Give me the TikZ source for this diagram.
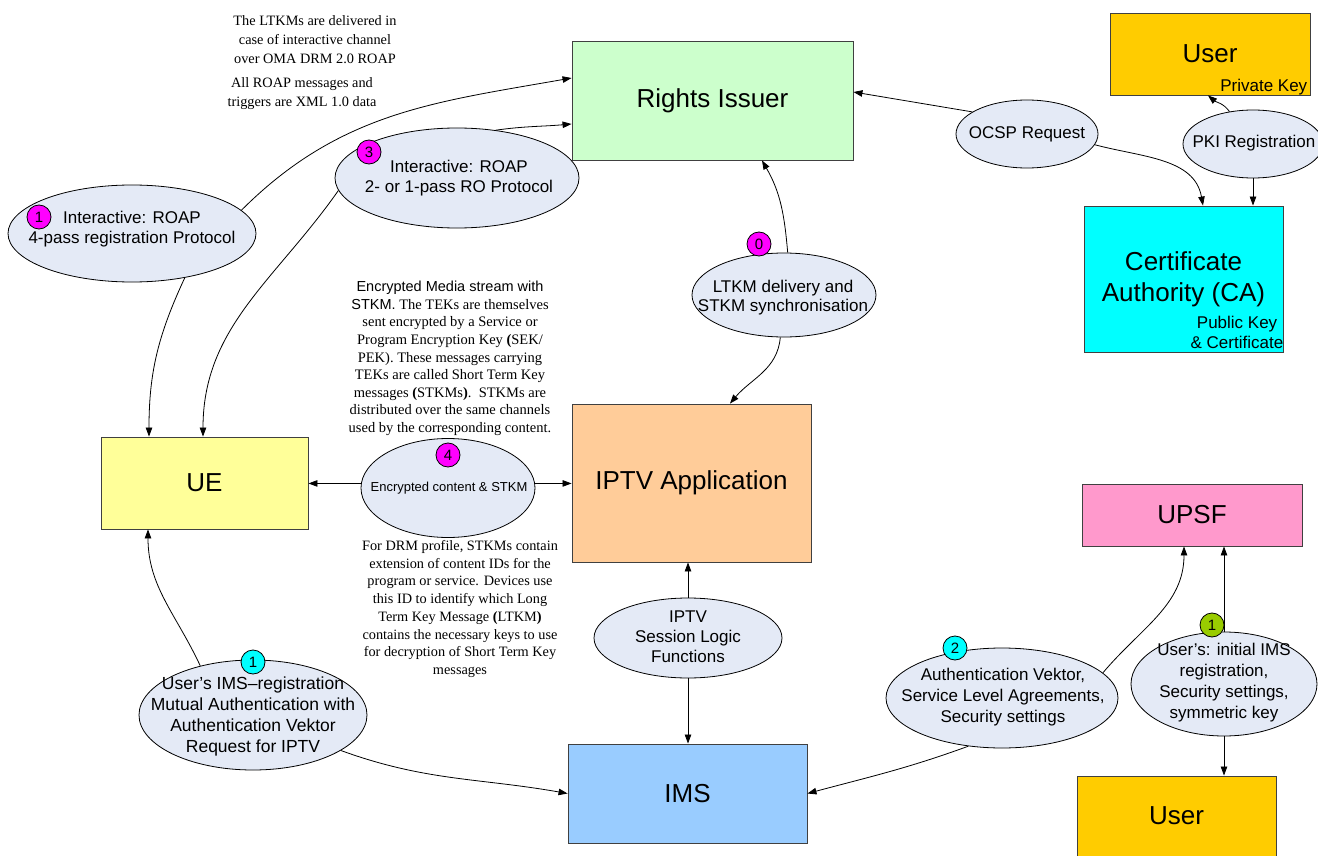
\documentclass[tikz,border=0pt]{standalone}
\usepackage{fontspec}
\setmainfont{Liberation Serif}
\setsansfont{Liberation Sans}
\usetikzlibrary{shapes.geometric,arrows.meta}

\definecolor{riFill}{HTML}{CCFFCC}
\definecolor{userFill}{HTML}{FFCC00}
\definecolor{caFill}{HTML}{00FFFF}
\definecolor{ueFill}{HTML}{FFFF99}
\definecolor{iptvFill}{HTML}{FFCC99}
\definecolor{upsfFill}{HTML}{FF99CC}
\definecolor{imsFill}{HTML}{99CCFF}
\definecolor{bubbleFill}{HTML}{E4EAF6}
\definecolor{magentaBadge}{HTML}{FF00FF}
\definecolor{cyanBadge}{HTML}{00FFFF}
\definecolor{greenBadge}{HTML}{99CC00}
\definecolor{edge}{HTML}{404040}

\newcommand\setsz[2]{\fontsize{#1}{#2}\selectfont}

\tikzset{
  box/.style={draw=edge, line width=0.9pt, inner sep=0pt, align=center,
              font=\sffamily\setsz{26}{31}},
  boxlabel/.style={inner sep=0pt, align=center, font=\sffamily\setsz{26}{31}},
  smalllabel/.style={inner sep=0pt, font=\sffamily\setsz{17}{20}},
  bubble/.style={ellipse, draw=black, line width=0.8pt, fill=bubbleFill, inner sep=0pt},
  btext/.style={inner sep=0pt, align=center, font=\sffamily\setsz{17}{20.5}},
  badge/.style={circle, draw=black, line width=0.8pt, minimum size=24pt,
                inner sep=0pt, font=\sffamily\setsz{15}{15}},
  note/.style={inner sep=0pt, align=center, font=\rmfamily\setsz{14.3}{19}},
  conn/.style={-{Triangle[length=9pt,width=6.5pt]}, line width=0.8pt, black},
}

\begin{document}
\begin{tikzpicture}[x=1pt,y=-1pt]
\path[fill=white, use as bounding box] (0,0) rectangle (1318,856);

% ---- boxes ----
\node[box, fill=riFill, minimum width=281pt, minimum height=119pt] (ri) at (712.5,100.5) {Rights Issuer};
\node[box, fill=userFill, minimum width=200pt, minimum height=82pt] (usert) at (1210,54) {User};
\node[smalllabel, anchor=base east] (pk) at ([xshift=-3pt,yshift=4pt]usert.south east) {Private Key};
\node[box, fill=caFill, minimum width=199pt, minimum height=146pt] (ca) at (1183.5,279) {Certificate\\Authority (CA)};
\node[smalllabel, anchor=south east, align=right] (pubk) at ([yshift=4pt]ca.south east) {Public Key\hspace*{6pt}\\\& Certificate};
\node[box, fill=ueFill, minimum width=207pt, minimum height=92pt] (ue) at (204.5,483) {UE};
\node[box, fill=iptvFill, minimum width=239pt, minimum height=158pt] (iptv) at (691.5,483) {IPTV Application};
\node[box, fill=upsfFill, minimum width=220pt, minimum height=62pt] (upsf) at (1192,515) {UPSF};
\node[box, fill=imsFill, minimum width=239pt, minimum height=99pt] (ims) at (687.5,793.5) {IMS};
\node[box, fill=userFill, minimum width=199pt, minimum height=100pt] (userb) at (1176.5,826) {};
\node[boxlabel] (userbl) at (1176.5,816) {User};

% ---- message bubbles ----
\node[bubble, minimum width=248pt, minimum height=97pt] (e1) at (132,233.5) {};
\node[bubble, minimum width=244pt, minimum height=100pt] (e3) at (457,178) {};
\node[bubble, minimum width=184pt, minimum height=84pt] (e0) at (784,295) {};
\node[bubble, minimum width=142pt, minimum height=68pt] (ocsp) at (1027,134) {};
\node[bubble, minimum width=140pt, minimum height=68pt] (pki) at (1253,144) {};
\node[bubble, minimum width=174pt, minimum height=99pt] (e4) at (448,488) {};
\node[bubble, minimum width=188pt, minimum height=80pt] (slf) at (688,638) {};
\node[bubble, minimum width=228pt, minimum height=110pt] (ureg) at (253,715) {};
\node[bubble, minimum width=232pt, minimum height=100pt] (auth) at (1002,698) {};
\node[bubble, minimum width=186pt, minimum height=104pt] (uinit) at (1224,684) {};

\node[btext] (e1t) at (132,229) {Interactive: ROAP\\4-pass registration Protocol};
\node[btext] (e3t) at (459,178) {Interactive: ROAP\\2- or 1-pass RO Protocol};
\node[btext, font=\sffamily\setsz{17}{19.5}] (e0t) at (783,297.5) {LTKM delivery and\\STKM synchronisation};
\node[btext] (ocspt) at (1027,134) {OCSP Request};
\node[btext] (pkit) at (1254,143) {PKI Registration};
\node[btext, font=\sffamily\setsz{13}{15}] (e4t) at (449,488) {Encrypted content \& STKM};
\node[btext, font=\sffamily\setsz{17}{20}] (slft) at (688,637) {IPTV\\Session Logic\\Functions};
\node[btext, font=\sffamily\setsz{17.5}{21}] (uregt) at (253,716) {User’s IMS–registration\\Mutual Authentication with\\Authentication Vektor\\Request for IPTV};
\node[btext, font=\sffamily\setsz{17}{21}] (autht) at (1003,697) {Authentication Vektor,\\Service Level Agreements,\\Security settings};
\node[btext, font=\sffamily\setsz{17}{21}] (uinitt) at (1224,682.5) {User’s: initial IMS\\registration,\\Security settings,\\symmetric key};

% ---- explanatory notes ----
\node[note] (n1) at (315,40) {The LTKMs are delivered in\\case of interactive channel\\over OMA DRM 2.0 ROAP};
\node[note] (n2) at (302,93.5) {All ROAP messages and\\triggers are XML 1.0 data};
\node[note, font=\rmfamily\setsz{14.5}{17.6}] (n3) at (450,358.5) {{\sffamily Encrypted Media stream with}\\{\sffamily STKM.} The TEKs are themselves\\sent encrypted by a Service or\\Program Encryption Key \textbf{(}SEK/\\PEK). These messages carrying\\TEKs are called Short Term Key\\messages \textbf{(}STKMs\textbf{)}.\ \ STKMs are\\distributed over the same channels\\used by the corresponding content.};
\node[note, font=\rmfamily\setsz{14.3}{17.7}] (n4) at (460,609) {For DRM profile, STKMs contain\\extension of content IDs for the\\program or service. Devices use\\this ID to identify which Long\\Term Key Message \textbf{(}LTKM\textbf{)}\\contains the necessary keys to use\\for decryption of Short Term Key\\messages};

% ---- connectors ----
\draw[conn] (e1.12) to[out=45,in=190] ([yshift=22.5pt]ri.west);
\draw[conn] (e1.-40) to[out=245,in=90] ([xshift=-55.5pt]ue.north);
\draw[conn] (e3.51) to[out=8,in=185] ([yshift=-23.5pt]ri.west);
\draw[conn] (e3.186) to[out=235,in=90] ([xshift=-1.5pt]ue.north);
\draw[conn] (e0.85) to[out=95,in=-60] ([xshift=49.5pt]ri.south);
\draw[conn] (e0.-95) to[out=-95,in=50] ([xshift=38.5pt]iptv.north);
\draw[conn] (ocsp.158) -- ([yshift=8.5pt]ri.east);
\draw[conn] (ocsp.-9) to[out=-15,in=100] ([xshift=19.5pt]ca.north);
\draw[conn] (pki.126) to[out=125,in=-40] ([xshift=-2pt]usert.south);
\draw[conn] (pki.south) -- (pki.south |- ca.north);
\draw[conn] (e4.177) -- (e4.177 -| ue.east);
\draw[conn] (e4.3) -- (e4.3 -| iptv.west);
\draw[conn] (slf.north) -- (slf.north |- iptv.south);
\draw[conn] (slf.south) -- (slf.south |- ims.north);
\draw[conn] (ureg.137) to[out=115,in=-90] ([xshift=-56.5pt]ue.south);
\draw[conn] (ureg.-22) to[out=-20,in=170] (ims.west);
\draw[conn] (auth.14) to[out=50,in=-90] ([xshift=-8pt]upsf.south);
\draw[conn] (auth.-125) to[out=200,in=15] (ims.east);
\draw[conn] (uinit.north) -- (uinit.north |- upsf.south);
\draw[conn] (uinit.south) -- (uinit.south |- userb.north);

% ---- step badges ----
\node[badge, fill=magentaBadge] (b1) at (39,217) {1};
\node[badge, fill=magentaBadge] (b3) at (369,152) {3};
\node[badge, fill=magentaBadge] (b0) at (759,244) {0};
\node[badge, fill=magentaBadge] (b4) at (448,455) {4};
\node[badge, fill=cyanBadge] (bc1) at (253,662) {1};
\node[badge, fill=cyanBadge] (bc2) at (955,648) {2};
\node[badge, fill=greenBadge] (bg1) at (1212,625) {1};
\end{tikzpicture}
\end{document}
